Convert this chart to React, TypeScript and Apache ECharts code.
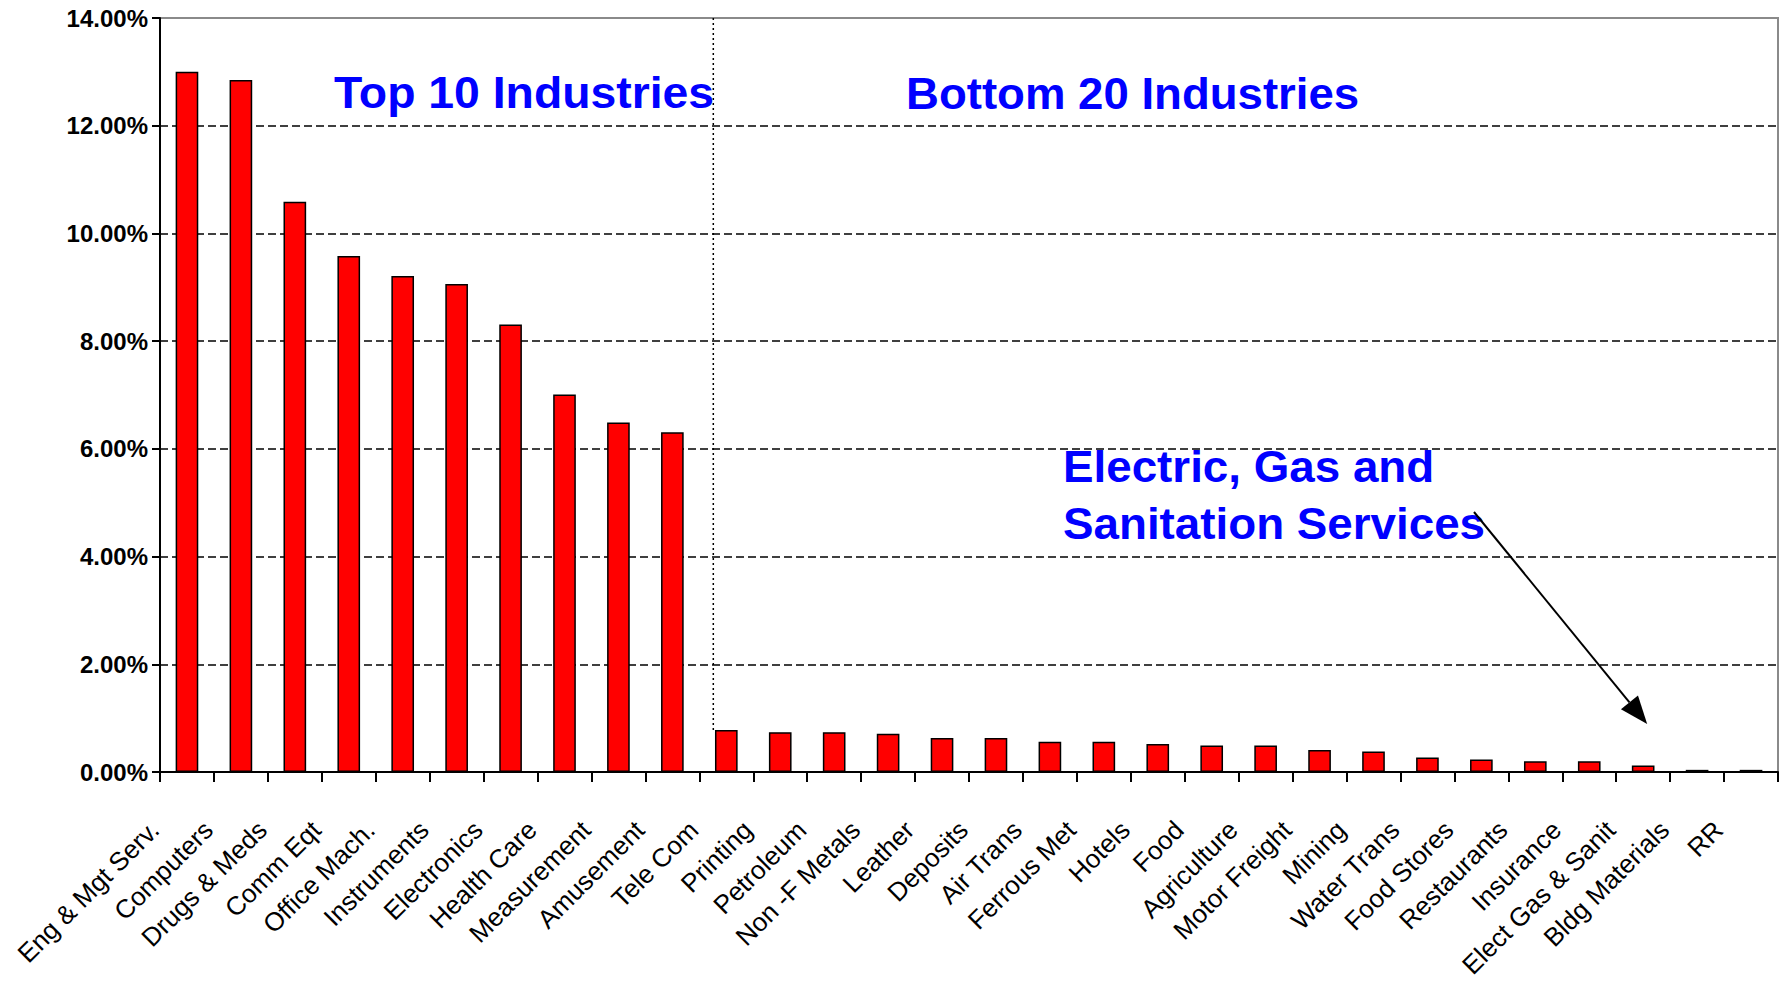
import React, { useEffect, useRef } from "react";
import * as echarts from "echarts";

const categories = [
  "Eng & Mgt Serv.", "Computers", "Drugs & Meds", "Comm Eqt", "Office Mach.",
  "Instruments", "Electronics", "Health Care", "Measurement", "Amusement",
  "Tele Com", "Printing", "Petroleum", "Non -F Metals", "Leather",
  "Deposits", "Air Trans", "Ferrous Met", "Hotels", "Food",
  "Agriculture", "Motor Freight", "Mining", "Water Trans", "Food Stores",
  "Restaurants", "Insurance", "Elect Gas & Sanit", "Bldg Materials", "RR",
];

const values = [
  13.0, 12.85, 10.59, 9.58, 9.21, 9.06, 8.31, 7.01, 6.49, 6.31,
  0.78, 0.74, 0.74, 0.71, 0.63, 0.63, 0.56, 0.56, 0.52, 0.49,
  0.49, 0.41, 0.38, 0.27, 0.23, 0.2, 0.2, 0.12, 0.04, 0.04,
];

const yTicks = { min: 0, max: 14, interval: 2 };

const titleTop = "Top 10 Industries";
const titleBottom = "Bottom 20 Industries";
const noteLines = ["Electric, Gas and", "Sanitation Services"];

const FONT = "'Liberation Sans', Arial, sans-serif";

export default function App() {
  const ref = useRef<HTMLDivElement>(null);

  useEffect(() => {
    if (!ref.current) return;
    const chart = echarts.init(ref.current, undefined, { renderer: "svg" });
    const option: any = {
      animation: false,
      backgroundColor: "#fff",
      grid: {
        left: 160,
        right: 2,
        top: 18,
        bottom: 212,
        containLabel: false,
        outerBoundsMode: "none",
        show: true,
        borderColor: "#8a8a8a",
        borderWidth: 2,
        backgroundColor: "transparent",
      },
      xAxis: {
        type: "category",
        data: categories,
        boundaryGap: true,
        axisLine: { show: true, lineStyle: { color: "#000", width: 2 } },
        axisTick: { show: true, length: 10, lineStyle: { color: "#000", width: 2 } },
        axisLabel: {
          interval: 0,
          rotate: 45,
          margin: 21,
          padding: [0, 46, 0, 0],
          fontFamily: FONT,
          fontSize: 26,
          color: "#000",
        },
        splitLine: { show: false },
      },
      yAxis: {
        type: "value",
        min: yTicks.min,
        max: yTicks.max,
        interval: yTicks.interval,
        axisLine: { show: true, lineStyle: { color: "#000", width: 2 } },
        axisTick: { show: true, length: 8, lineStyle: { color: "#000", width: 2 } },
        axisLabel: {
          margin: 12,
          fontFamily: FONT,
          fontSize: 24,
          fontWeight: "bold",
          color: "#000",
          formatter: (v: number) => v.toFixed(2) + "%",
        },
        splitLine: {
          show: true,
          showMinLine: false,
          showMaxLine: false,
          lineStyle: { color: "#000", width: 1.5, type: [8, 4] },
        },
      },
      series: [
        {
          type: "bar",
          data: values,
          barWidth: "42%",
          itemStyle: { color: "#FF0000", borderColor: "#000", borderWidth: 1.5 },
        },
      ],
    };
    chart.setOption(option);

    // annotation positions derived from axes
    const divX = (chart.convertToPixel({ xAxisIndex: 0 }, 10) as number) - 13;
    const topY = chart.convertToPixel({ yAxisIndex: 0 }, 14) as number;
    const barTopY = chart.convertToPixel({ yAxisIndex: 0 }, values[10]) as number;
    const tipX = (chart.convertToPixel({ xAxisIndex: 0 }, 27) as number) + 4;
    const tipY = chart.convertToPixel({ yAxisIndex: 0 }, 0.89) as number;
    const startX = 1474;
    const startY = 512;
    const ang = Math.atan2(tipY - startY, tipX - startX);
    const hl = 28;
    const hw = 11;
    const bx = tipX - hl * Math.cos(ang);
    const by = tipY - hl * Math.sin(ang);
    const px = -Math.sin(ang);
    const py = Math.cos(ang);

    const blueText = (text: string, x: number, y: number, size: number, sx: number) => ({
      type: "text",
      x,
      y,
      scaleX: sx,
      style: {
        text,
        fill: "#0000FF",
        font: `bold ${size}px ${FONT}`,
        textVerticalAlign: "middle",
      },
      z: 100,
    });

    chart.setOption({
      graphic: [
        {
          type: "line",
          shape: { x1: divX, y1: topY, x2: divX, y2: barTopY },
          style: { stroke: "#000", lineWidth: 1.5, lineDash: [2, 3] },
          z: 100,
        },
        blueText(titleTop, 334, 93, 45, 1.03),
        blueText(titleBottom, 906, 93, 44, 1.036),
        blueText(noteLines[0], 1063, 467, 44, 1.04),
        blueText(noteLines[1], 1063, 524, 44, 1.04),
        {
          type: "line",
          shape: { x1: startX, y1: startY, x2: bx, y2: by },
          style: { stroke: "#000", lineWidth: 2 },
          z: 100,
        },
        {
          type: "polygon",
          shape: {
            points: [
              [tipX, tipY],
              [bx + px * hw, by + py * hw],
              [bx - px * hw, by - py * hw],
            ],
          },
          style: { fill: "#000" },
          z: 100,
        },
      ],
    });

    return () => chart.dispose();
  }, []);

  return (
    <div
      ref={ref}
      style={{ position: "fixed", left: 0, top: 0, width: 1780, height: 984, background: "#fff" }}
    />
  );
}
